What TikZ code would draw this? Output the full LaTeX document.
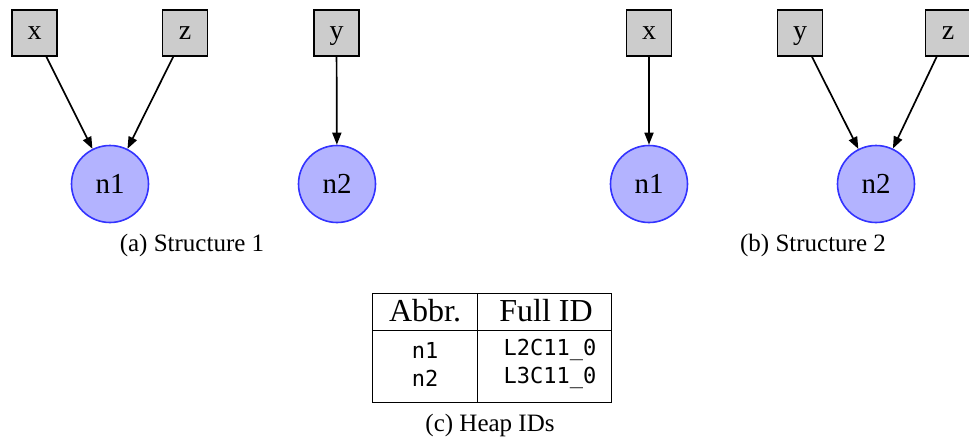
\documentclass[tikz,border=0pt]{standalone}
\usepackage{fontspec}
\setmainfont{Liberation Serif}
\newfontfamily\gvfont{Liberation Serif}
\newfontfamily\idfont{DejaVu Sans Mono}
\usetikzlibrary{arrows.meta}
\definecolor{varfill}{HTML}{CCCCCC}
\definecolor{heapfill}{HTML}{B3B3FF}
\definecolor{heapline}{HTML}{3333FF}
\begin{document}
\begin{tikzpicture}[x=1pt,y=-1pt,
  varbox/.style={draw=black, fill=varfill, line width=1.6pt, minimum width=45pt,
    minimum height=46pt, inner sep=0pt, text height=12pt, text depth=0pt,
    font=\gvfont\fontsize{28}{32}\selectfont},
  heap/.style={circle, draw=heapline, fill=heapfill, line width=1.6pt,
    minimum size=77pt, inner sep=0pt, font=\gvfont\fontsize{29}{33}\selectfont},
  ptr/.style={line width=1.7pt, -{Triangle[length=12pt,width=9pt]}},
  caption/.style={font=\fontsize{25}{29}\selectfont},
  cell/.style={font=\fontsize{32}{36}\selectfont},
  idcell/.style={font=\idfont\fontsize{22}{26}\selectfont},
  rule/.style={line width=0.8pt}]
\useasboundingbox (0,0) rectangle (969,442);

% Structure 1
\node[varbox] (x1) at (34.5,33) {x};
\node[varbox] (z1) at (185,33) {z};
\node[varbox] (y1) at (336.5,33) {y};
\node[heap] (n1a) at (110,184) {n1};
\node[heap] (n2a) at (337,184) {n2};
\draw[ptr] (x1) -- (n1a);
\draw[ptr] (z1) -- (n1a);
\draw[ptr] (y1) -- (n2a);
\node[caption] (capa) at (192,245) {(a) Structure 1};

% Structure 2
\node[varbox] (x2) at (649,33) {x};
\node[varbox] (y2) at (800,33) {y};
\node[varbox] (z2) at (948,33) {z};
\node[heap] (n1b) at (649,184) {n1};
\node[heap] (n2b) at (876,184) {n2};
\draw[ptr] (x2) -- (n1b);
\draw[ptr] (y2) -- (n2b);
\draw[ptr] (z2) -- (n2b);
\node[caption] (capb) at (813,245) {(b) Structure 2};

% Heap ID table
\draw[rule] (372.5,293) rectangle (611,402.5);
\draw[rule] (372.5,330) -- (611,330);
\draw[rule] (477,293) -- (477,402.5);
\node[cell] (hA) at (425,311) {Abbr.};
\node[cell] (hF) at (546,311) {Full ID};
\node[idcell] (r1a) at (425,350) {n1};
\node[idcell] (r1b) at (550,350) {L2C11\_0};
\node[idcell] (r2a) at (425,378) {n2};
\node[idcell] (r2b) at (550,378) {L3C11\_0};
\node[caption] (capc) at (490,425) {(c) Heap IDs};
\end{tikzpicture}
\end{document}
